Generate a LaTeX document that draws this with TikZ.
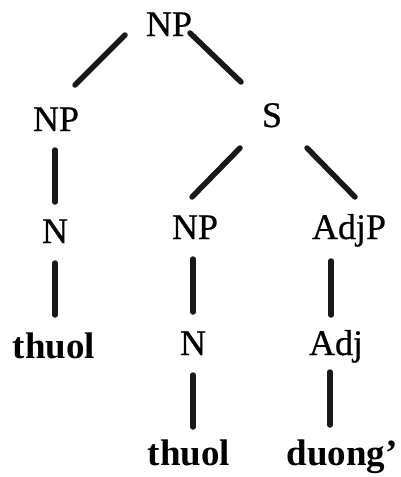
\documentclass[tikz,border=0pt]{standalone}
\usepackage{fontspec}
\setmainfont{Liberation Serif}
\newfontfamily\catfont[FakeBold=0.6]{Liberation Serif}
\begin{document}
\begin{tikzpicture}[x=1pt,y=-1pt,
  cat/.style={inner sep=0pt,anchor=base,font=\catfont\fontsize{36}{40}\selectfont},
  word/.style={inner sep=0pt,anchor=base,font=\fontsize{37}{40}\selectfont\bfseries},
  branch/.style={line width=5.5pt,line cap=round,black!90}]
\useasboundingbox (0,0) rectangle (400,477);
% category labels and words
\node[cat]  (np0)   at (169,36)  {NP};
\node[cat]  (np1)   at (56,131)  {NP};
\node[cat]  (s)     at (272,127) {S};
\node[cat]  (n1)    at (55,243)  {N};
\node[cat]  (np2)   at (195,239) {NP};
\node[cat]  (adjp)  at (349,239) {AdjP};
\node[word] (w1)    at (54,358)  {thuol};
\node[cat]  (n2)    at (193,355) {N};
\node[cat]  (adj)   at (336,355) {Adj};
\node[word] (w2)    at (189,465) {thuol};
\node[word] (w3)    at (342,465) {duong'};
% branches
\draw[branch] ([shift={(-44,-1)}]np0.base) -- ([shift={(19,-46)}]np1.base);
\draw[branch] ([shift={(21,-3)}]np0.base) -- ([shift={(-31,-45)}]s.base);
\draw[branch] ([shift={(-32,21)}]s.base) -- ([shift={(-3,-42)}]np2.base);
\draw[branch] ([shift={(35,21)}]s.base) -- ([shift={(6,-42)}]adjp.base);
\draw[branch] ([shift={(-1,19)}]np1.base) -- ([shift={(0,-41)}]n1.base);
\draw[branch] ([shift={(0,20)}]n1.base) -- ([shift={(1,-43)}]w1.base);
\draw[branch] ([shift={(-2,20)}]np2.base) -- ([shift={(0,-43)}]n2.base);
\draw[branch] ([shift={(-18,22)}]adjp.base) -- ([shift={(-5,-40)}]adj.base);
\draw[branch] ([shift={(0,20)}]n2.base) -- ([shift={(4,-38)}]w2.base);
\draw[branch] ([shift={(-6,17)}]adj.base) -- ([shift={(-12,-40)}]w3.base);
\end{tikzpicture}
\end{document}
